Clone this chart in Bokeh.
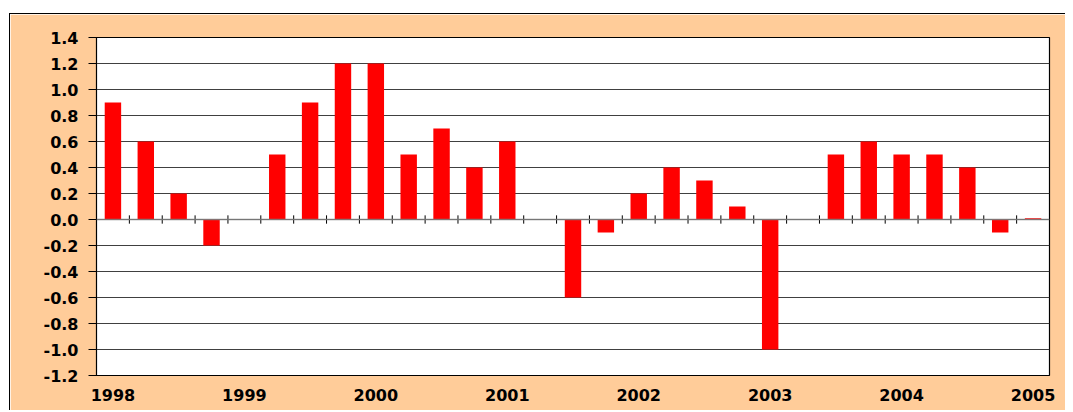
import numpy as np
from bokeh.plotting import figure
from bokeh.models import Range1d, FixedTicker, PrintfTickFormatter, Span, ColumnDataSource
from bokeh.embed import file_html
from bokeh.resources import INLINE

# Quarterly values, 1998 Q1 .. 2005 Q1 (None = no bar)
quarters = [f"{y} Q{q}" for y in range(1998, 2005) for q in range(1, 5)] + ["2005 Q1"]
values = [0.9, 0.6, 0.2, -0.2,
          None, 0.5, 0.9, 1.2,
          1.2, 0.5, 0.7, 0.4,
          0.6, None, -0.6, -0.1,
          0.2, 0.4, 0.3, 0.1,
          -1.0, None, 0.5, 0.6,
          0.5, 0.5, 0.4, -0.1,
          0.01]
year_labels = ["1998", "1999", "2000", "2001", "2002", "2003", "2004", "2005"]
y_ticks = [-1.2, -1.0, -0.8, -0.6, -0.4, -0.2, 0.0, 0.2, 0.4, 0.6, 0.8, 1.0, 1.2, 1.4]

n = len(quarters)
x = [i + 0.5 for i in range(n)]
top = [np.nan if v is None else v for v in values]
src = ColumnDataSource(dict(x=x, top=top, q=quarters))

PEACH = "#FFCC99"
p = figure(width=1056, height=397, output_backend="svg", toolbar_location=None,
           x_range=Range1d(0, n), y_range=Range1d(-1.2, 1.4),
           min_border_left=86, min_border_right=17, min_border_top=23, min_border_bottom=36,
           border_fill_color=PEACH, background_fill_color="white",
           outline_line_color="black", outline_line_width=1.2,
           margin=(13, 0, 0, 9))
p.styles = {"border-left": "1px solid black", "border-top": "1px solid black"}

# gridlines
p.xgrid.grid_line_color = None
p.ygrid.grid_line_color = "#404040"
p.ygrid.grid_line_width = 1

p.vbar(x="x", top="top", bottom=0, width=0.5, source=src,
       fill_color="#FF0000", line_color=None)

# zero line on top of bars
p.add_layout(Span(location=0, dimension="width", line_color="#808080",
                  line_width=1.6, line_alpha=0.85))

# category boundary tick marks crossing the zero line
bx = list(range(1, n))
p.segment(x0=bx, x1=bx, y0=[-0.032] * len(bx), y1=[0.032] * len(bx),
          line_color="black", line_width=1)

# y axis
yax = p.yaxis[0]
yax.ticker = FixedTicker(ticks=y_ticks)
yax.formatter = PrintfTickFormatter(format="%.1f")
yax.major_tick_out = 8
yax.major_tick_in = 0
yax.minor_tick_line_color = None
yax.axis_line_color = "black"
yax.major_tick_line_color = "black"
yax.major_label_standoff = 10
yax.major_label_text_font = "DejaVu Sans"
yax.major_label_text_font_style = "bold"
yax.major_label_text_font_size = "16px"
yax.major_label_text_color = "black"

# x axis: year labels at each Q1
xax = p.xaxis[0]
year_pos = [i * 4 + 0.5 for i in range(len(year_labels))]
xax.ticker = FixedTicker(ticks=year_pos)
xax.major_label_overrides = {pos: lab for pos, lab in zip(year_pos, year_labels)}
xax.axis_line_color = None
xax.major_tick_line_color = None
xax.minor_tick_line_color = None
xax.major_tick_out = 0
xax.major_tick_in = 0
xax.major_label_standoff = 13
xax.major_label_text_font = "DejaVu Sans"
xax.major_label_text_font_style = "bold"
xax.major_label_text_font_size = "16px"
xax.major_label_text_color = "black"

open("out.html", "w").write(file_html(p, INLINE))
